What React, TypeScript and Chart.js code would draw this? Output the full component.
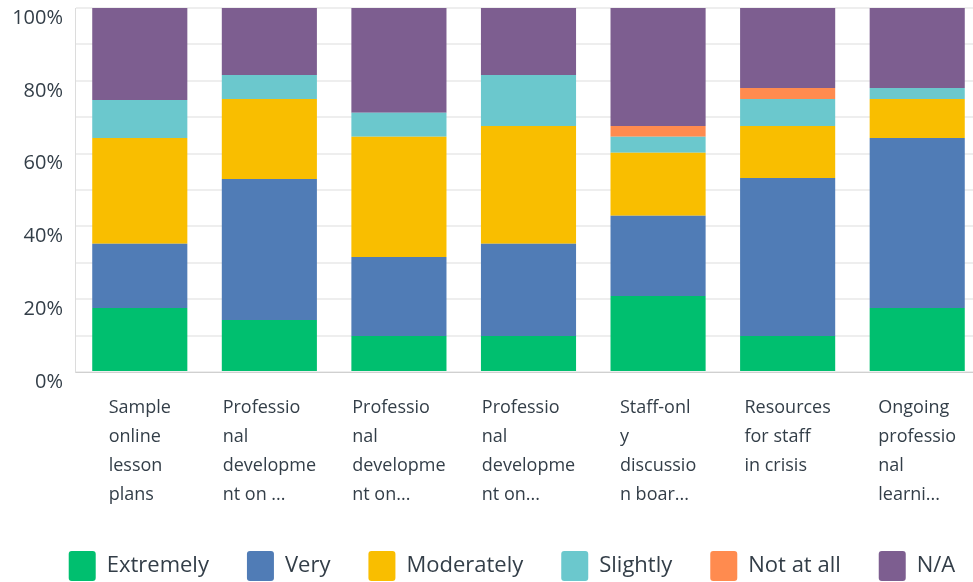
import React, { useEffect, useRef } from "react";
import { Chart, registerables } from "chart.js";

Chart.register(...registerables);

const categories: string[][] = [
  ["Sample", "online", "lesson", "plans"],
  ["Professio", "nal", "developme", "nt on ..."],
  ["Professio", "nal", "developme", "nt on..."],
  ["Professio", "nal", "developme", "nt on..."],
  ["Staff-onl", "y", "discussio", "n boar..."],
  ["Resources", "for staff", "in crisis"],
  ["Ongoing", "professio", "nal", "learni..."],
];

const extremely = [17.6, 14.3, 9.9, 9.9, 20.9, 9.9, 17.6];
const very = [17.6, 38.7, 21.7, 25.3, 22.0, 43.4, 46.7];
const moderately = [29.1, 22.0, 33.0, 32.4, 17.3, 14.3, 10.7];
const slightly = [10.4, 6.6, 6.6, 14.0, 4.4, 7.4, 3.0];
const notAtAll = [0, 0, 0, 0, 3.0, 3.0, 0];
const na = [25.3, 18.4, 28.8, 18.4, 32.4, 22.0, 22.0];

const seriesNames = ["Extremely", "Very", "Moderately", "Slightly", "Not at all", "N/A"];
const seriesColors = ["#00BF6F", "#507CB6", "#F9BE00", "#6BC8CD", "#FF8B4F", "#7D5E90"];

const FONT = "'Open Sans'";
const TEXT = "#333E48";

const xLabelPlugin = {
  id: "xLabelsLeft",
  afterDraw(chart: any) {
    const xs = chart.scales.x;
    const ctx = chart.ctx;
    ctx.save();
    ctx.font = `18px ${FONT}`;
    ctx.fillStyle = TEXT;
    ctx.textAlign = "left";
    ctx.textBaseline = "middle";
    categories.forEach((lines, i) => {
      const w = Math.max(...lines.map((l) => ctx.measureText(l).width));
      const x0 = xs.getPixelForValue(i) - w / 2;
      lines.forEach((line, j) => {
        ctx.fillText(line, x0, chart.chartArea.bottom + 36 + j * 29);
      });
    });
    ctx.restore();
  },
};

export default function App() {
  const ref = useRef<HTMLCanvasElement | null>(null);
  useEffect(() => {
    if (!ref.current) return;
    const data = [extremely, very, moderately, slightly, notAtAll, na];
    const chart = new Chart(ref.current, {
      type: "bar",
      data: {
        labels: categories.map((c) => c.join(" ")),
        datasets: data.map((d, i) => ({
          label: seriesNames[i],
          data: d,
          backgroundColor: seriesColors[i],
          borderWidth: 0,
          categoryPercentage: 1,
          barPercentage: 0.734,
        })),
      },
      options: {
        animation: false,
        responsive: true,
        maintainAspectRatio: false,
        layout: { padding: { top: 8, right: 0, left: 0, bottom: -9 } },
        plugins: {
          tooltip: { enabled: false },
          legend: {
            position: "bottom",
            labels: {
              boxWidth: 27,
              boxHeight: 30,
              padding: 38,
              useBorderRadius: true,
              borderRadius: 3,
              color: TEXT,
              font: { family: FONT, size: 22 },
            },
          },
        },
        scales: {
          x: {
            stacked: true,
            grid: { display: false },
            border: { display: true, color: "#d0d0d0", width: 1 },
            ticks: { display: false },
            afterFit: (s: any) => {
              s.height = 141;
            },
          },
          y: {
            stacked: true,
            min: 0,
            max: 100,
            grid: { color: "#eeeeee", lineWidth: 2, drawTicks: false },
            border: { display: true, color: "#dcdcdc", width: 1 },
            ticks: {
              stepSize: 10,
              padding: 12,
              labelOffset: 10,
              color: TEXT,
              font: { family: FONT, size: 20 },
              callback: (v: any) => (Number(v) % 20 === 0 ? `${v}%` : ""),
            },
            afterFit: (s: any) => {
              s.width = 75;
              s.paddingTop = 0;
              s.paddingBottom = 0;
            },
          },
          yRight: {
            position: "right",
            display: true,
            grid: { display: false, drawTicks: false },
            border: { display: false },
            ticks: { display: false },
            afterFit: (s: any) => {
              s.width = 42;
              s.paddingTop = 0;
              s.paddingBottom = 0;
            },
          },
        },
      },
      plugins: [xLabelPlugin],
    });
    return () => chart.destroy();
  }, []);
  return (
    <div style={{ position: "fixed", left: 0, top: 0, width: 973, height: 582, overflow: "hidden", background: "#fff" }}>
      <div style={{ position: "relative", width: 1024, height: 582 }}>
        <canvas ref={ref} />
      </div>
    </div>
  );
}
